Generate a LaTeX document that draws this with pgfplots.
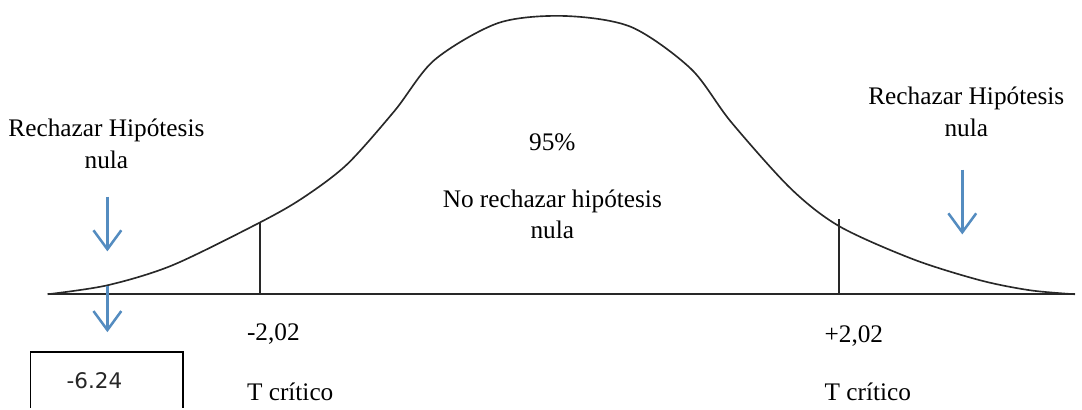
\documentclass[border=0pt]{standalone}
\usepackage{fontspec}
\setmainfont{Liberation Serif}
\newfontfamily\boxfont{DejaVu Sans}
\usepackage{pgfplots}
\pgfplotsset{compat=1.18}
\usetikzlibrary{arrows.meta}
\definecolor{arrowblue}{RGB}{84,140,192}
\definecolor{curvegray}{RGB}{40,40,40}
\begin{document}
\begin{tikzpicture}
\begin{axis}[
  width=15cm, height=5.670cm,
  scale only axis,
  hide axis,
  xmin=0, xmax=1082, ymin=0, ymax=409,
  clip=false,
]
\path (axis cs:0,0) rectangle (axis cs:1082,409);
% bell curve (pixel positions, y measured upward)
\addplot[curvegray, line width=0.65pt, smooth, no marks] coordinates {
  (45,114) (105,123) (170,143) (256,185) (300,210) (345,244) (393,298)
  (433,349) (497,386) (563,393) (630,382) (690,340) (730,287) (790,220)
  (839,182) (913,149) (980,128) (1030,118) (1075,114)
};
% baseline
\addplot[curvegray, line width=0.65pt, no marks] coordinates {(45,114) (1075,114)};
% critical values
\addplot[curvegray, line width=0.65pt, no marks] coordinates {(258,114) (258,186)};
\addplot[curvegray, line width=0.7pt, no marks] coordinates {(838.5,114) (838.5,189)};
% arrows
\draw[arrowblue, line width=1pt, -{Straight Barb[length=7.5pt,width=11pt]}] (axis cs:105,212) -- (axis cs:105,157);
\draw[arrowblue, line width=1pt, -{Straight Barb[length=7.5pt,width=11pt]}] (axis cs:105,122) -- (axis cs:105,76);
\draw[arrowblue, line width=1pt, -{Straight Barb[length=7.5pt,width=11pt]}] (axis cs:962,239) -- (axis cs:962,174);
% texts
\node[font=\fontsize{10}{12}\selectfont, align=center] at (axis cs:104,265) {Rechazar Hipótesis\\[0.5pt]nula};
\node[font=\fontsize{10}{12}\selectfont, align=center] at (axis cs:966,297) {Rechazar Hipótesis\\[0.5pt]nula};
\node[font=\fontsize{10}{12}\selectfont] at (axis cs:551,266) {95\%};
\node[font=\fontsize{10}{12}\selectfont, align=center] at (axis cs:551,194) {No rechazar hipótesis\\nula};
\node[font=\fontsize{10}{12}\selectfont, anchor=west] at (axis cs:236,74) {-2,02};
\node[font=\fontsize{10}{12}\selectfont, anchor=west] at (axis cs:236,16) {T crítico};
\node[font=\fontsize{10}{12}\selectfont, anchor=west] at (axis cs:815,72) {+2,02};
\node[font=\fontsize{10}{12}\selectfont, anchor=west] at (axis cs:815,16) {T crítico};
% result box
\draw[black, line width=0.6pt] (axis cs:28,0) -- (axis cs:28,56) -- (axis cs:181,56) -- (axis cs:181,0);
\node[font=\boxfont\fontsize{8.5}{10}\selectfont, text=black!85] at (axis cs:92,27) {-6.24};
\end{axis}
\end{tikzpicture}
\end{document}
